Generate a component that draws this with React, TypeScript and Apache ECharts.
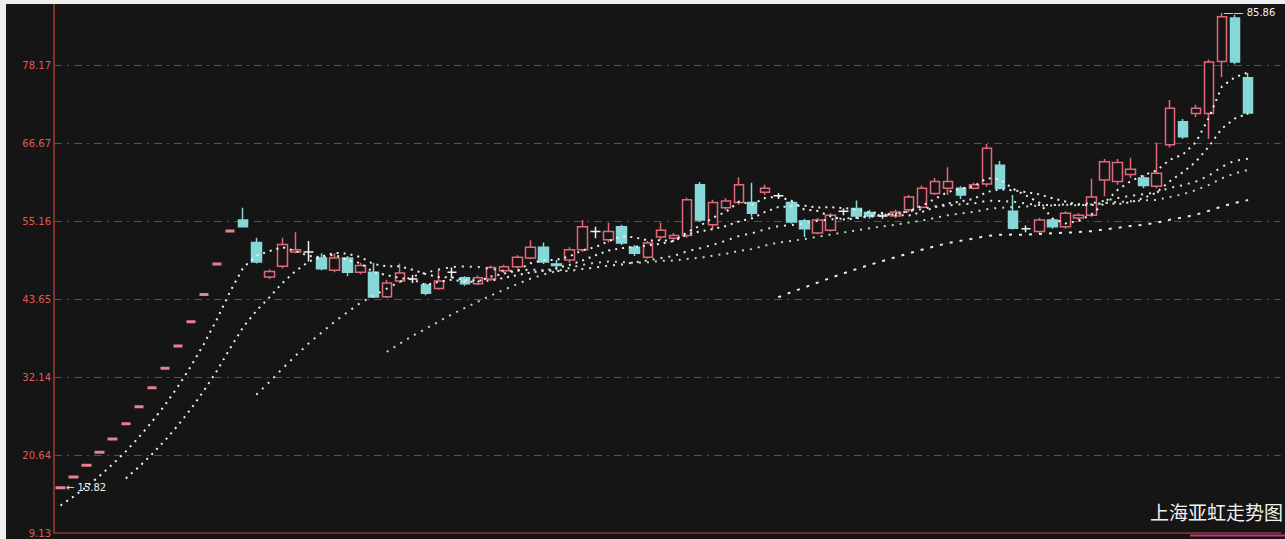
import React, { useEffect, useRef } from "react";
import * as echarts from "echarts";

// Closes of the first listing days that lie left of the visible window (needed for the MAs)
const priorCloses = [10.8, 11.88, 13.07, 14.38];

const opens = [
  15.82, 17.4, 19.14, 21.05, 23.0, 25.25, 27.77, 30.55, 33.45, 36.7,
  40.3, 44.33, 48.8, 53.68, 55.3, 52.0, 46.9, 48.5, 50.6, 50.6,
  49.7, 47.9, 49.7, 47.6, 47.6, 44.0, 46.3, 46.6, 45.7, 45.2,
  47.6, 46.8, 45.9, 46.6, 47.8, 48.4, 49.7, 51.3, 48.8, 49.4,
  50.9, 53.6, 52.4, 54.3, 51.3, 49.8, 52.8, 52.6, 53.0, 60.5,
  54.6, 57.1, 57.9, 57.9, 59.4, 58.9, 57.9, 55.2, 53.4, 53.8,
  56.6, 57.0, 56.4, 55.9, 55.9, 56.8, 57.2, 59.2, 60.0, 60.0,
  60.0, 60.6, 63.4, 56.6, 54.0, 53.6, 55.3, 54.3, 55.6, 56.0,
  61.2, 61.0, 62.0, 61.5, 60.3, 66.4, 69.8, 71.0, 71.0, 78.7,
  85.1, 76.3,
];
const closes = [
  15.82, 17.4, 19.14, 21.05, 23.0, 25.25, 27.77, 30.55, 33.45, 36.7,
  40.3, 44.33, 48.8, 53.68, 54.3, 49.1, 47.7, 51.7, 50.9, 50.6,
  48.1, 49.7, 47.6, 48.6, 43.95, 46.0, 47.5, 46.6, 44.5, 46.3,
  47.6, 45.9, 46.8, 48.3, 48.4, 49.8, 51.3, 49.1, 48.6, 50.9,
  54.3, 53.6, 53.6, 51.9, 50.4, 51.9, 53.8, 53.0, 58.3, 55.3,
  57.9, 58.1, 60.5, 56.3, 60.0, 58.9, 55.0, 54.0, 55.3, 56.0,
  56.6, 55.9, 55.9, 55.9, 56.5, 58.7, 60.0, 61.0, 61.0, 59.0,
  60.5, 65.9, 60.0, 54.1, 54.0, 55.3, 54.3, 56.3, 56.0, 58.7,
  63.9, 63.8, 62.8, 60.4, 62.2, 71.8, 67.6, 71.8, 78.6, 85.3,
  78.6, 71.1,
];
const lows = [
  15.82, 17.4, 19.14, 21.05, 23.0, 25.25, 27.77, 30.55, 33.45, 36.7,
  40.3, 44.33, 48.8, 53.68, 54.2, 48.9, 46.6, 48.2, 50.4, 49.2,
  47.9, 47.6, 47.0, 47.3, 43.8, 43.8, 46.0, 46.0, 44.2, 45.0,
  46.8, 45.6, 45.7, 46.3, 47.5, 48.2, 49.5, 48.8, 47.9, 49.0,
  50.6, 52.6, 52.0, 51.6, 50.0, 49.6, 52.4, 52.3, 52.7, 55.0,
  53.9, 56.8, 57.6, 55.8, 59.0, 58.4, 54.8, 52.8, 53.2, 53.6,
  56.0, 55.6, 55.5, 55.5, 55.6, 56.5, 57.0, 59.0, 59.0, 58.4,
  59.8, 60.2, 59.8, 53.9, 53.5, 53.3, 54.0, 54.0, 55.3, 55.8,
  58.8, 60.5, 61.5, 60.0, 60.0, 66.0, 67.3, 70.5, 67.3, 76.4,
  78.3, 70.8,
];
const highs = [
  15.82, 17.4, 19.14, 21.05, 23.0, 25.25, 27.77, 30.55, 33.45, 36.7,
  40.3, 44.33, 48.8, 53.68, 57.1, 52.7, 48.0, 52.7, 53.5, 52.2,
  50.4, 50.4, 50.0, 49.0, 48.97, 46.5, 48.9, 47.2, 46.0, 48.0,
  48.3, 47.0, 47.1, 48.6, 48.7, 50.1, 52.3, 52.0, 49.4, 51.3,
  55.3, 54.3, 54.9, 54.6, 51.6, 52.2, 54.9, 53.4, 58.6, 60.9,
  58.3, 58.5, 61.6, 60.8, 60.5, 59.3, 58.3, 55.5, 55.6, 56.3,
  57.0, 58.2, 56.8, 56.3, 56.8, 59.0, 60.4, 61.5, 63.1, 60.3,
  60.8, 66.5, 64.0, 59.0, 54.5, 55.6, 55.6, 56.6, 56.3, 61.4,
  64.3, 64.3, 64.5, 61.9, 66.7, 73.0, 70.2, 72.3, 79.0, 85.86,
  85.6, 77.0,
];

// y-axis tick labels (bottom to top)
const yTicks = [9.13, 20.64, 32.14, 43.65, 55.16, 66.67, 78.17];
const yTop = 87.17;
const slotCount = 94;
const maPeriods = [5, 10, 20, 30, 60];
const titleText = "上海亚虹走势图";

const maColors = ["#f2f2f2", "#eeeeee", "#e4e4e4", "#b0e6a0", "#dcf0f0"];
const maDash: number[][] = [[2, 5], [2, 5], [2, 6], [2, 6], [3, 7]];

function movingAverage(period: number): (number | string)[] {
  const all = priorCloses.concat(closes);
  const off = priorCloses.length;
  return closes.map((_, i) => {
    const end = i + off;
    if (end + 1 < period) return "-";
    let s = 0;
    for (let k = end - period + 1; k <= end; k++) s += all[k];
    return +(s / period).toFixed(3);
  });
}

export default function App() {
  const ref = useRef<HTMLDivElement>(null);
  useEffect(() => {
    document.body.style.margin = "0";
    if (!ref.current) return;
    const chart = echarts.init(ref.current, undefined, { renderer: "svg" });
    const categories = Array.from({ length: slotCount }, (_, i) => String(i + 1));
    const candleData = opens.map((o, i) => {
      const c = closes[i];
      const item: any = { value: [o, c, lows[i], highs[i]] };
      if (o === c && highs[i] === lows[i]) {
        item.itemStyle = { color: "#e8808e", borderColor: "#e8808e", borderWidth: 3 };
      } else if (o === c) {
        item.itemStyle = { color: "#f0f0f0", borderColor: "#f0f0f0", borderWidth: 1.5 };
      }
      return item;
    });
    const interval = (yTicks[yTicks.length - 1] - yTicks[0]) / (yTicks.length - 1);
    const labelFor = (v: number) => {
      let best = yTicks[0];
      for (const t of yTicks) if (Math.abs(t - v) < Math.abs(best - v)) best = t;
      return best.toFixed(2);
    };
    const maSeries = maPeriods.map((p, k) => ({
      name: "MA" + p,
      type: "line",
      data: movingAverage(p),
      symbol: "none",
      silent: true,
      z: 5,
      lineStyle: { color: maColors[k], width: 2, type: maDash[k] },
    }));
    chart.setOption({
      animation: false,
      backgroundColor: "#151515",
      grid: { left: 48, right: 4.3, top: 0, bottom: 6 },
      xAxis: {
        type: "category",
        data: categories,
        boundaryGap: true,
        axisTick: { show: false },
        axisLabel: { show: false },
        axisLine: { show: true, lineStyle: { color: "#8e3434", width: 1.5 } },
        splitLine: { show: false },
      },
      yAxis: {
        type: "value",
        min: yTicks[0],
        max: yTop,
        interval,
        axisLine: { show: true, lineStyle: { color: "#a83a32", width: 1.5 } },
        axisTick: { show: false },
        axisLabel: {
          color: "#e05a5a",
          fontSize: 10,
          fontFamily: "DejaVu Sans",
          margin: 3,
          showMaxLabel: false,
          formatter: (v: number) => labelFor(v),
        },
        splitLine: {
          show: true,
          showMinLine: false,
          showMaxLine: false,
          lineStyle: { color: "#7c4040", width: 1, type: [8, 5, 2, 5] },
        },
      },
      series: [
        {
          type: "candlestick",
          data: candleData,
          barWidth: 10,
          z: 3,
          itemStyle: {
            color: "#151515",
            borderColor: "#e26a78",
            color0: "#86d8d8",
            borderColor0: "#86d8d8",
            borderWidth: 1.5,
          },
          markPoint: {
            symbol: "rect",
            symbolSize: 1,
            itemStyle: { color: "rgba(0,0,0,0)" },
            label: {
              show: true,
              position: "right",
              color: "#f0f0f0",
              fontSize: 10,
              fontFamily: "DejaVu Sans",
            },
            data: [
              {
                type: "max",
                valueDim: "highest",
                label: { formatter: (p: any) => "—— " + Number(p.value).toFixed(2), offset: [-4, 0] },
              },
              {
                type: "min",
                valueDim: "lowest",
                label: { formatter: (p: any) => "← " + Number(p.value).toFixed(2), offset: [0, 0] },
              },
            ],
          },
        },
        ...maSeries,
      ],
      graphic: [
        {
          type: "line",
          shape: { x1: 1184, y1: 531.5, x2: 1279, y2: 531.5 },
          style: { stroke: "#c8307a", lineWidth: 2 },
        },
        {
          type: "text",
          right: 2,
          top: 498,
          style: {
            text: titleText,
            fill: "#f2f2f2",
            font: "19px 'Noto Sans CJK SC'",
          },
        },
      ],
    });
    return () => chart.dispose();
  }, []);
  return (
    <div style={{ position: "relative", width: 1285, height: 539, background: "#eeeeee", overflow: "hidden" }}>
      <div ref={ref} style={{ position: "absolute", left: 6, top: 4, width: 1279, height: 535 }} />
    </div>
  );
}
